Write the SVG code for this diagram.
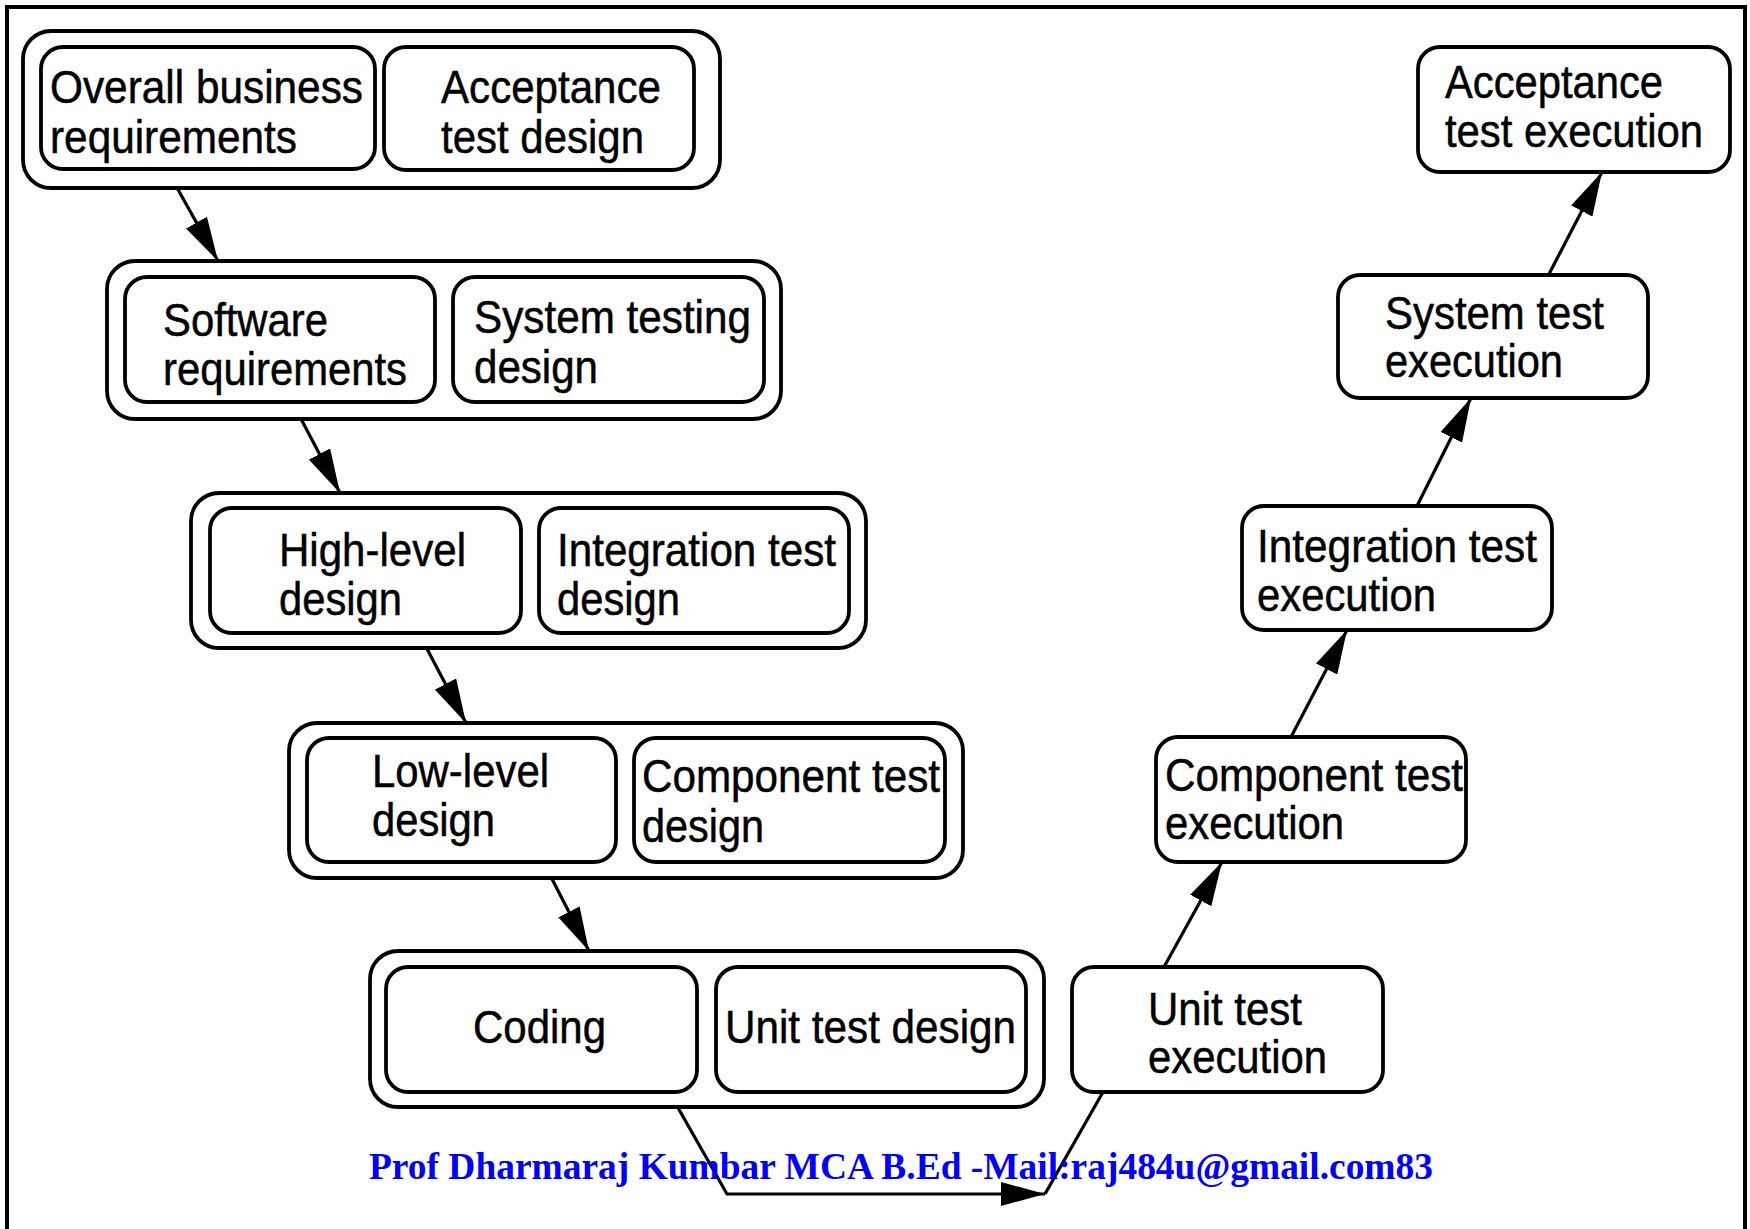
<svg xmlns="http://www.w3.org/2000/svg" width="1750" height="1229" viewBox="0 0 1750 1229">
  <style>
    .frame { fill: none; stroke: #000; stroke-width: 4; }
    .group { fill: #fff; stroke: #000; stroke-width: 3.8; }
    .box { fill: #fff; stroke: #000; stroke-width: 3.8; }
    .lbl { font-family: "Liberation Sans", Arial, Helvetica, sans-serif; font-size: 46px; fill: #000; stroke: #000; stroke-width: 0.5; }
    .wire { fill: none; stroke: #000; stroke-width: 3.2; }
    .arrow { marker-end: url(#head); }
    .credit { font-family: "Liberation Serif", "Times New Roman", serif; font-weight: bold; font-size: 38px; fill: #0000ff; }
  </style>
  <defs>
    <marker id="head" viewBox="0 0 44 24" refX="44" refY="12" markerWidth="44" markerHeight="24" markerUnits="userSpaceOnUse" orient="auto">
      <path d="M0,0 L44,12 L0,24 Z" fill="#000"/>
    </marker>
  </defs>

  <rect width="1750" height="1229" fill="#fff"/>
  <!-- page border (open at the bottom edge) -->
  <rect class="frame" x="7" y="7" width="1738" height="1240"/>

  <!-- connectors -->
  <g id="connectors">
    <line class="wire arrow" x1="176" y1="186" x2="218" y2="261"/>
    <line class="wire arrow" x1="300" y1="417" x2="340" y2="493"/>
    <line class="wire arrow" x1="426" y1="647" x2="466" y2="723"/>
    <line class="wire arrow" x1="551" y1="877" x2="589" y2="951"/>
    <polyline class="wire arrow" points="677,1106 727,1194 1045,1194"/>
    <line class="wire" x1="1045" y1="1194" x2="1103" y2="1092"/>
    <line class="wire arrow" x1="1164" y1="967" x2="1222" y2="862"/>
    <line class="wire arrow" x1="1291" y1="737" x2="1347" y2="630"/>
    <line class="wire arrow" x1="1417" y1="506" x2="1471" y2="398"/>
    <line class="wire arrow" x1="1548" y1="276" x2="1602" y2="172"/>
  </g>

  <!-- requirements / design level 1 -->
  <g id="level-business">
    <rect class="group" x="23" y="31" width="697" height="157" rx="28"/>
    <g id="overall-business-requirements">
      <rect class="box" x="41" y="47" width="334" height="122" rx="22"/>
      <text class="lbl" x="50" y="103" textLength="313" lengthAdjust="spacingAndGlyphs">Overall business</text>
      <text class="lbl" x="50" y="153" textLength="247" lengthAdjust="spacingAndGlyphs">requirements</text>
    </g>
    <g id="acceptance-test-design">
      <rect class="box" x="384" y="47" width="310" height="123" rx="22"/>
      <text class="lbl" x="441" y="103" textLength="220" lengthAdjust="spacingAndGlyphs">Acceptance</text>
      <text class="lbl" x="441" y="153" textLength="203" lengthAdjust="spacingAndGlyphs">test design</text>
    </g>
  </g>

  <!-- level 2 -->
  <g id="level-software">
    <rect class="group" x="107" y="261" width="674" height="158" rx="28"/>
    <g id="software-requirements">
      <rect class="box" x="125" y="277" width="310" height="125" rx="22"/>
      <text class="lbl" x="163" y="336" textLength="165" lengthAdjust="spacingAndGlyphs">Software</text>
      <text class="lbl" x="163" y="385" textLength="244" lengthAdjust="spacingAndGlyphs">requirements</text>
    </g>
    <g id="system-testing-design">
      <rect class="box" x="453" y="277" width="311" height="125" rx="22"/>
      <text class="lbl" x="474" y="333" textLength="277" lengthAdjust="spacingAndGlyphs">System testing</text>
      <text class="lbl" x="474" y="383" textLength="124" lengthAdjust="spacingAndGlyphs">design</text>
    </g>
  </g>

  <!-- level 3 -->
  <g id="level-high">
    <rect class="group" x="191" y="493" width="675" height="155" rx="28"/>
    <g id="high-level-design">
      <rect class="box" x="210" y="508" width="311" height="125" rx="22"/>
      <text class="lbl" x="279" y="566" textLength="187" lengthAdjust="spacingAndGlyphs">High-level</text>
      <text class="lbl" x="279" y="615" textLength="123" lengthAdjust="spacingAndGlyphs">design</text>
    </g>
    <g id="integration-test-design">
      <rect class="box" x="539" y="508" width="310" height="125" rx="22"/>
      <text class="lbl" x="557" y="566" textLength="279" lengthAdjust="spacingAndGlyphs">Integration test</text>
      <text class="lbl" x="557" y="615" textLength="123" lengthAdjust="spacingAndGlyphs">design</text>
    </g>
  </g>

  <!-- level 4 -->
  <g id="level-low">
    <rect class="group" x="289" y="723" width="674" height="155" rx="28"/>
    <g id="low-level-design">
      <rect class="box" x="307" y="738" width="309" height="124" rx="22"/>
      <text class="lbl" x="372" y="787" textLength="177" lengthAdjust="spacingAndGlyphs">Low-level</text>
      <text class="lbl" x="372" y="836" textLength="123" lengthAdjust="spacingAndGlyphs">design</text>
    </g>
    <g id="component-test-design">
      <rect class="box" x="634" y="738" width="311" height="124" rx="22"/>
      <text class="lbl" x="642" y="792" textLength="298" lengthAdjust="spacingAndGlyphs">Component test</text>
      <text class="lbl" x="642" y="842" textLength="122" lengthAdjust="spacingAndGlyphs">design</text>
    </g>
  </g>

  <!-- level 5 -->
  <g id="level-code">
    <rect class="group" x="370" y="951" width="674" height="156" rx="28"/>
    <g id="coding">
      <rect class="box" x="386" y="967" width="311" height="125" rx="22"/>
      <text class="lbl" x="473" y="1043" textLength="133" lengthAdjust="spacingAndGlyphs">Coding</text>
    </g>
    <g id="unit-test-design">
      <rect class="box" x="716" y="967" width="310" height="125" rx="22"/>
      <text class="lbl" x="725" y="1043" textLength="291" lengthAdjust="spacingAndGlyphs">Unit test design</text>
    </g>
  </g>

  <!-- execution side -->
  <g id="unit-test-execution">
    <rect class="box" x="1072" y="967" width="311" height="125" rx="22"/>
    <text class="lbl" x="1148" y="1025" textLength="154" lengthAdjust="spacingAndGlyphs">Unit test</text>
    <text class="lbl" x="1148" y="1073" textLength="179" lengthAdjust="spacingAndGlyphs">execution</text>
  </g>
  <g id="component-test-execution">
    <rect class="box" x="1156" y="737" width="310" height="125" rx="22"/>
    <text class="lbl" x="1165" y="791" textLength="298" lengthAdjust="spacingAndGlyphs">Component test</text>
    <text class="lbl" x="1165" y="839" textLength="179" lengthAdjust="spacingAndGlyphs">execution</text>
  </g>
  <g id="integration-test-execution">
    <rect class="box" x="1242" y="506" width="310" height="124" rx="22"/>
    <text class="lbl" x="1257" y="562" textLength="280" lengthAdjust="spacingAndGlyphs">Integration test</text>
    <text class="lbl" x="1257" y="611" textLength="179" lengthAdjust="spacingAndGlyphs">execution</text>
  </g>
  <g id="system-test-execution">
    <rect class="box" x="1338" y="275" width="310" height="123" rx="22"/>
    <text class="lbl" x="1385" y="329" textLength="219" lengthAdjust="spacingAndGlyphs">System test</text>
    <text class="lbl" x="1385" y="377" textLength="178" lengthAdjust="spacingAndGlyphs">execution</text>
  </g>
  <g id="acceptance-test-execution">
    <rect class="box" x="1418" y="47" width="312" height="125" rx="22"/>
    <text class="lbl" x="1445" y="98" textLength="218" lengthAdjust="spacingAndGlyphs">Acceptance</text>
    <text class="lbl" x="1445" y="147" textLength="258" lengthAdjust="spacingAndGlyphs">test execution</text>
  </g>

  <!-- author credit line -->
  <text class="credit" x="369" y="1179" textLength="1064" lengthAdjust="spacingAndGlyphs">Prof Dharmaraj Kumbar MCA B.Ed -Mail:raj484u@gmail.com83</text>
</svg>
